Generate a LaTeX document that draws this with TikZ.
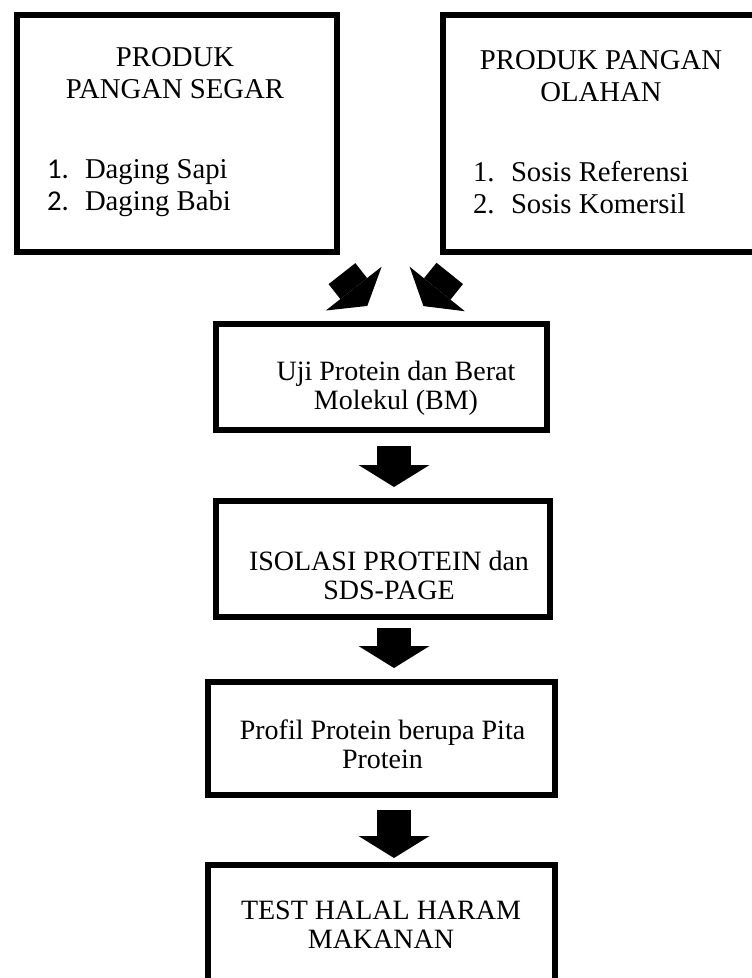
\documentclass[tikz,border=0pt]{standalone}
\usepackage{fontspec}
\setmainfont{Liberation Serif}
\newfontfamily\calibriface{Carlito}
\usetikzlibrary{arrows.meta}

\newcommand{\itemline}[2]{\makebox[256pt][l]{\makebox[38pt][l]{#1}#2}}

\begin{document}
\begin{tikzpicture}
[x=1pt,y=-1pt,
  boxDecorate/.style={shape=rectangle,draw,line width=5.5pt,inner sep=0pt,outer sep=0pt},
  textDecorate/.style={align=center,inner sep=0pt,font=\fontsize{28}{29}\selectfont},
  headDecorate/.style={align=center,inner sep=0pt,font=\fontsize{28.7}{32}\selectfont},
  arrowDecorate/.style={line width=34pt,-{Triangle[width=71pt,length=22pt,line width=0pt]}}]
\useasboundingbox (0,0) rectangle (752,978);
%% boxes
\foreach \nodename/\x/\y/\w/\h in {
  segar/177/133.5/320/237, olahan/613/133.5/340/237,
  uji/381.5/377/331/106, isolasi/383/559/334/116,
  profil/381.5/738.5/347/113, test/381.5/935/347/140}
{
  \node (\nodename) at (\x,\y) [boxDecorate,minimum width=\w pt,minimum height=\h pt] {};
}
%% texts
\node (segarText) at (175,132.5) [headDecorate]
  {PRODUK\\PANGAN SEGAR\\[48pt]\itemline{\calibriface 1.}{Daging Sapi}\\\itemline{\calibriface 2.}{Daging Babi}};
\node (olahanText) at (601,132) [headDecorate]
  {PRODUK PANGAN\\OLAHAN\\[48pt]\itemline{1.}{Sosis Referensi}\\\itemline{2.}{Sosis Komersil}};
\foreach \nodename/\x/\y/\txt in {
  ujiText/396/388.4/{Uji Protein dan Berat\\Molekul (BM)},
  isolasiText/389/575/{ISOLASI PROTEIN dan\\SDS-PAGE},
  profilText/382.5/744.5/{Profil Protein berupa Pita\\Protein},
  testText/381/925/{TEST HALAL HARAM\\MAKANAN}}
{
  \node (\nodename) at (\x,\y) [textDecorate] {\txt};
}
%% arrows
\coordinate (spine) at (394,0);
\draw[arrowDecorate,shorten <=27.5pt,shorten >=23pt] ([xshift=-12pt]segar.south east) -- (uji.north);
\draw[arrowDecorate,shorten <=27.5pt,shorten >=23pt] ([xshift=24pt]olahan.south west) -- ([xshift=27.5pt]uji.north);
\foreach \startnode/\endnode/\gapa/\gapb in {
  uji/isolasi/16/14, isolasi/profil/11/14, profil/test/15/7}
{
  \draw[arrowDecorate,shorten <=\gapa pt,shorten >=\gapb pt]
    (\startnode.south -| spine) -- (\endnode.north -| spine);
}
\end{tikzpicture}
\end{document}
